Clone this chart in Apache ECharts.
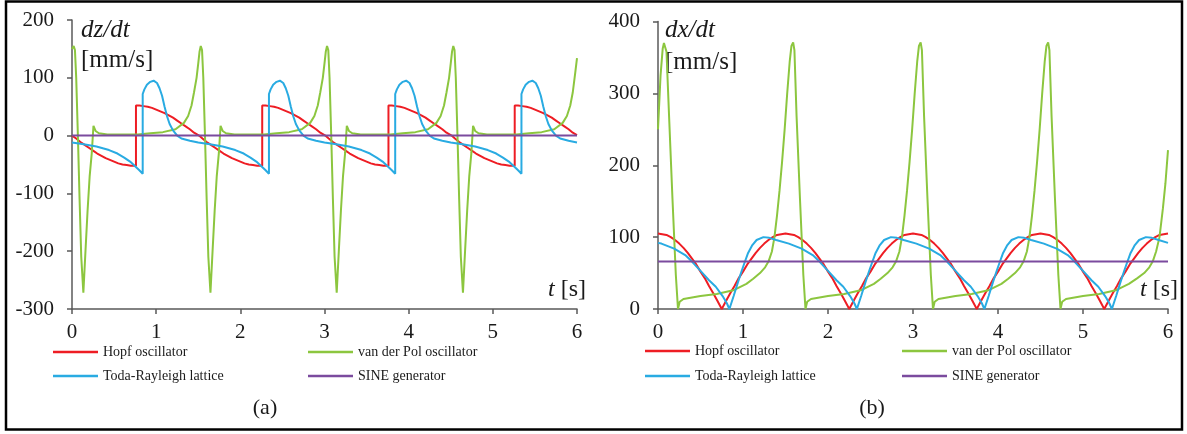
<!DOCTYPE html>
<html>
<head>
<meta charset="utf-8">
<script src="https://cdn.jsdelivr.net/npm/echarts@6/dist/echarts.min.js"></script>
<style>
  html, body { margin: 0; padding: 0; background: #ffffff; }
  #chart { width: 1187px; height: 434px; }
</style>
</head>
<body>
<div id="chart"></div>
<script>
// Oscillator names and line colours
const seriesNames = ['Hopf oscillator', 'van der Pol oscillator', 'Toda-Rayleigh lattice', 'SINE generator'];
const seriesColors = ['#EE1D24', '#8CC63F', '#29ABE2', '#7B4B9E'];

// Time axis ticks [s]
const timeTicks = { min: 0, max: 6, step: 1 };
// Velocity axis ranges [mm/s]
const dzRange = { min: -300, max: 200, step: 100 };
const dxRange = { min: 0, max: 400, step: 100 };

// ---- (a) dz/dt [mm/s] versus t [s] ----
const hopfDz = [[0,0],[0.05,-5],[0.1,-11],[0.15,-16],[0.2,-21],[0.25,-26],[0.3,-31],[0.35,-35],[0.4,-39],[0.45,-42],[0.5,-45],[0.55,-48],[0.6,-50],[0.65,-51],[0.7,-52],[0.76,-52],
  [0.76,52],[0.8,52],[0.85,51],[0.9,50],[0.95,48],[1,45],[1.05,42],[1.1,39],[1.15,35],[1.2,31],[1.25,26],[1.3,21],[1.35,16],[1.4,11],[1.45,5],[1.51,0],[1.55,-5],[1.6,-11],[1.65,-16],[1.7,-21],[1.75,-26],[1.8,-31],[1.85,-35],[1.9,-39],[1.95,-42],[2,-45],[2.05,-48],[2.1,-50],[2.15,-51],[2.2,-52],[2.26,-52],
  [2.26,52],[2.3,52],[2.35,51],[2.4,50],[2.45,48],[2.5,45],[2.55,42],[2.6,39],[2.65,35],[2.7,31],[2.75,26],[2.8,21],[2.85,16],[2.9,11],[2.95,5],[3.01,0],[3.05,-5],[3.1,-11],[3.15,-16],[3.2,-21],[3.25,-26],[3.3,-31],[3.35,-35],[3.4,-39],[3.45,-42],[3.5,-45],[3.55,-48],[3.6,-50],[3.65,-51],[3.7,-52],[3.76,-52],
  [3.76,52],[3.8,52],[3.85,51],[3.9,50],[3.95,48],[4,45],[4.05,42],[4.1,39],[4.15,35],[4.2,31],[4.25,26],[4.3,21],[4.35,16],[4.4,11],[4.45,5],[4.51,0],[4.55,-5],[4.6,-11],[4.65,-16],[4.7,-21],[4.75,-26],[4.8,-31],[4.85,-35],[4.9,-39],[4.95,-42],[5,-45],[5.05,-48],[5.1,-50],[5.15,-51],[5.2,-52],[5.26,-52],
  [5.26,52],[5.3,52],[5.35,51],[5.4,50],[5.45,48],[5.5,45],[5.55,42],[5.6,39],[5.65,35],[5.7,31],[5.75,26],[5.8,21],[5.85,16],[5.9,11],[5.95,5],[6,1]];

const vdpDz = [[0,150],[0.02,155],[0.035,148],[0.05,100],[0.07,0],[0.09,-110],[0.11,-210],[0.135,-272],[0.16,-200],[0.185,-130],[0.21,-70],[0.235,-30],[0.255,17],[0.28,8],[0.32,4],[0.42,2],[0.78,2],[0.93,4],[1.08,6],[1.23,11],[1.33,22],[1.38,34],[1.42,52],[1.45,75],[1.48,100],[1.5,125],[1.515,145],[1.53,155],
  [1.545,148],[1.56,100],[1.58,0],[1.6,-110],[1.62,-210],[1.645,-272],[1.67,-200],[1.695,-130],[1.72,-70],[1.745,-30],[1.765,17],[1.79,8],[1.83,4],[1.93,2],[2.28,2],[2.43,4],[2.58,6],[2.73,11],[2.83,22],[2.88,34],[2.92,52],[2.95,75],[2.98,100],[3,125],[3.015,145],[3.03,155],
  [3.045,148],[3.06,100],[3.08,0],[3.1,-110],[3.12,-210],[3.145,-272],[3.17,-200],[3.195,-130],[3.22,-70],[3.245,-30],[3.265,17],[3.29,8],[3.33,4],[3.43,2],[3.78,2],[3.93,4],[4.08,6],[4.23,11],[4.33,22],[4.38,34],[4.42,52],[4.45,75],[4.48,100],[4.5,125],[4.515,145],[4.53,155],
  [4.545,148],[4.56,100],[4.58,0],[4.6,-110],[4.62,-210],[4.645,-272],[4.67,-200],[4.695,-130],[4.72,-70],[4.745,-30],[4.765,17],[4.79,8],[4.83,4],[4.93,2],[5.28,2],[5.43,4],[5.58,6],[5.73,11],[5.83,22],[5.88,34],[5.92,52],[5.95,75],[5.98,110],[6,134]];

const todaDz = [[0,-12],[0.14,-15],[0.29,-19],[0.44,-25],[0.54,-31],[0.62,-38],[0.69,-45],[0.75,-53],[0.8,-60],[0.84,-66],
  [0.84,72],[0.86,80],[0.89,88],[0.93,93],[0.97,95],[1.01,91],[1.04,82],[1.07,69],[1.1,50],[1.13,33],[1.16,20],[1.2,9],[1.25,0],[1.3,-5],[1.4,-9],[1.5,-12],[1.64,-15],[1.79,-19],[1.94,-25],[2.04,-31],[2.12,-38],[2.19,-45],[2.25,-53],[2.3,-60],[2.34,-66],
  [2.34,72],[2.36,80],[2.39,88],[2.43,93],[2.47,95],[2.51,91],[2.54,82],[2.57,69],[2.6,50],[2.63,33],[2.66,20],[2.7,9],[2.75,0],[2.8,-5],[2.9,-9],[3,-12],[3.14,-15],[3.29,-19],[3.44,-25],[3.54,-31],[3.62,-38],[3.69,-45],[3.75,-53],[3.8,-60],[3.84,-66],
  [3.84,72],[3.86,80],[3.89,88],[3.93,93],[3.97,95],[4.01,91],[4.04,82],[4.07,69],[4.1,50],[4.13,33],[4.16,20],[4.2,9],[4.25,0],[4.3,-5],[4.4,-9],[4.5,-12],[4.64,-15],[4.79,-19],[4.94,-25],[5.04,-31],[5.12,-38],[5.19,-45],[5.25,-53],[5.3,-60],[5.34,-66],
  [5.34,72],[5.36,80],[5.39,88],[5.43,93],[5.47,95],[5.51,91],[5.54,82],[5.57,69],[5.6,50],[5.63,33],[5.66,20],[5.7,9],[5.75,0],[5.8,-5],[5.9,-9],[6,-12]];

const sineDz = [[0,0],[6,0]];

// ---- (b) dx/dt [mm/s] versus t [s] ----
const hopfDx = [[0,105],[0.05,104],[0.1,103],[0.15,100],[0.2,96],[0.25,91],[0.3,85],[0.35,78],[0.4,70],[0.45,62],[0.5,52],[0.55,43],[0.6,32],[0.65,22],[0.7,11],[0.75,0],[0.8,11],[0.85,22],[0.9,32],[0.95,43],[1,52],[1.05,62],[1.1,70],[1.15,78],[1.2,85],[1.25,91],[1.3,96],[1.35,100],[1.4,103],[1.45,104],[1.5,105],
  [1.55,104],[1.6,103],[1.65,100],[1.7,96],[1.75,91],[1.8,85],[1.85,78],[1.9,70],[1.95,62],[2,52],[2.05,43],[2.1,32],[2.15,22],[2.2,11],[2.25,0],[2.3,11],[2.35,22],[2.4,32],[2.45,43],[2.5,52],[2.55,62],[2.6,70],[2.65,78],[2.7,85],[2.75,91],[2.8,96],[2.85,100],[2.9,103],[2.95,104],[3,105],
  [3.05,104],[3.1,103],[3.15,100],[3.2,96],[3.25,91],[3.3,85],[3.35,78],[3.4,70],[3.45,62],[3.5,52],[3.55,43],[3.6,32],[3.65,22],[3.7,11],[3.75,0],[3.8,11],[3.85,22],[3.9,32],[3.95,43],[4,52],[4.05,62],[4.1,70],[4.15,78],[4.2,85],[4.25,91],[4.3,96],[4.35,100],[4.4,103],[4.45,104],[4.5,105],
  [4.55,104],[4.6,103],[4.65,100],[4.7,96],[4.75,91],[4.8,85],[4.85,78],[4.9,70],[4.95,62],[5,52],[5.05,43],[5.1,32],[5.15,22],[5.2,11],[5.25,0],[5.3,11],[5.35,22],[5.4,32],[5.45,43],[5.5,52],[5.55,62],[5.6,70],[5.65,78],[5.7,85],[5.75,91],[5.8,96],[5.85,100],[5.9,103],[5.95,104],[6,105]];

const vdpDx = [[0,250],[0.03,325],[0.055,362],[0.07,370],[0.085,370],[0.1,358],[0.13,269],[0.17,154],[0.21,47],[0.235,0],[0.255,10],[0.3,14],[0.5,18],[0.69,21],[0.885,26],[1.04,35],[1.12,42],[1.2,50],[1.26,58],[1.3,66],[1.34,80],[1.37,100],[1.4,130],[1.43,165],[1.46,205],[1.49,250],[1.52,300],[1.55,345],[1.57,366],[1.59,371],
  [1.605,360],[1.63,269],[1.67,154],[1.71,47],[1.735,0],[1.755,10],[1.8,14],[2,18],[2.19,21],[2.385,26],[2.54,35],[2.62,42],[2.7,50],[2.76,58],[2.8,66],[2.84,80],[2.87,100],[2.9,130],[2.93,165],[2.96,205],[2.99,250],[3.02,300],[3.05,345],[3.07,366],[3.09,371],
  [3.105,360],[3.13,269],[3.17,154],[3.21,47],[3.235,0],[3.255,10],[3.3,14],[3.5,18],[3.69,21],[3.885,26],[4.04,35],[4.12,42],[4.2,50],[4.26,58],[4.3,66],[4.34,80],[4.37,100],[4.4,130],[4.43,165],[4.46,205],[4.49,250],[4.52,300],[4.55,345],[4.57,366],[4.59,371],
  [4.605,360],[4.63,269],[4.67,154],[4.71,47],[4.735,0],[4.755,10],[4.8,14],[5,18],[5.19,21],[5.385,26],[5.54,35],[5.64,43],[5.72,50],[5.78,58],[5.82,66],[5.86,80],[5.9,100],[5.94,140],[5.97,175],[6,221]];

const todaDx = [[0,92],[0.04,91],[0.19,84],[0.32,75],[0.4,66],[0.5,53],[0.6,40],[0.68,31],[0.76,18],[0.81,8],[0.84,0],
  [0.89,18],[0.94,37],[0.99,55],[1.02,65],[1.06,78],[1.11,89],[1.16,96],[1.24,100],[1.31,99],[1.39,96],[1.54,91],[1.69,84],[1.82,75],[1.9,66],[2,53],[2.1,40],[2.18,31],[2.26,18],[2.31,8],[2.34,0],
  [2.39,18],[2.44,37],[2.49,55],[2.52,65],[2.56,78],[2.61,89],[2.66,96],[2.74,100],[2.81,99],[2.89,96],[3.04,91],[3.19,84],[3.32,75],[3.4,66],[3.5,53],[3.6,40],[3.68,31],[3.76,18],[3.81,8],[3.84,0],
  [3.89,18],[3.94,37],[3.99,55],[4.02,65],[4.06,78],[4.11,89],[4.16,96],[4.24,100],[4.31,99],[4.39,96],[4.54,91],[4.69,84],[4.82,75],[4.9,66],[5,53],[5.1,40],[5.18,31],[5.26,18],[5.31,8],[5.34,0],
  [5.39,18],[5.44,37],[5.49,55],[5.52,65],[5.56,78],[5.61,89],[5.66,96],[5.74,100],[5.81,99],[5.89,96],[6,92]];

const sineDx = [[0,66],[6,66]];

const SERIF = '"Liberation Serif", "Times New Roman", serif';
const AXIS_COLOR = '#5a5a5a';
const TEXT_COLOR = '#1a1a1a';

function timeAxis(gridIndex) {
  return {
    type: 'value', gridIndex,
    min: timeTicks.min, max: timeTicks.max, interval: timeTicks.step,
    axisLine: { onZero: false, lineStyle: { color: AXIS_COLOR, width: 1.5 } },
    axisTick: { length: 5, lineStyle: { color: AXIS_COLOR, width: 1.5 } },
    axisLabel: { fontFamily: SERIF, fontSize: 21, color: TEXT_COLOR, margin: 13 },
    splitLine: { show: false }
  };
}
function speedAxis(gridIndex, range) {
  return {
    type: 'value', gridIndex,
    min: range.min, max: range.max, interval: range.step,
    axisLine: { show: true, onZero: false, lineStyle: { color: AXIS_COLOR, width: 1.5 } },
    axisTick: { show: true, length: 5, lineStyle: { color: AXIS_COLOR, width: 1.5 } },
    axisLabel: { fontFamily: SERIF, fontSize: 21, color: TEXT_COLOR, margin: 18 },
    splitLine: { show: false }
  };
}
function lineSeries(idx, data, gridIndex) {
  return {
    type: 'line', name: seriesNames[idx], data,
    xAxisIndex: gridIndex, yAxisIndex: gridIndex,
    showSymbol: false, symbol: 'none', smooth: false,
    lineStyle: { color: seriesColors[idx], width: 2 },
    itemStyle: { color: seriesColors[idx] },
    z: 2 + idx
  };
}
function legendEntry(idx, left, top) {
  return {
    data: [seriesNames[idx]], left, top, orient: 'horizontal',
    icon: 'rect', itemWidth: 45, itemHeight: 2.5, selectedMode: false,
    textStyle: { fontFamily: SERIF, fontSize: 14, color: TEXT_COLOR, padding: [0, 0, 0, 0] },
    padding: 0
  };
}
function label(x, y, text, opts) {
  return {
    type: 'text', x, y, silent: true,
    style: Object.assign({
      text, fontFamily: SERIF, fontSize: 25, fill: TEXT_COLOR,
      textAlign: 'left', textVerticalAlign: 'middle'
    }, opts || {})
  };
}
const unitRich = { i: { fontStyle: 'italic', fontFamily: SERIF, fontSize: 24, fill: TEXT_COLOR } };

const chart = echarts.init(document.getElementById('chart'), null, { renderer: 'canvas' });
chart.setOption({
  animation: false,
  backgroundColor: '#ffffff',
  grid: [
    { left: 72, top: 20, width: 505, height: 289 },
    { left: 658, top: 21.5, width: 510, height: 287.5 }
  ],
  xAxis: [timeAxis(0), timeAxis(1)],
  yAxis: [speedAxis(0, dzRange), speedAxis(1, dxRange)],
  legend: [
    legendEntry(0, 53, 345), legendEntry(1, 308, 345),
    legendEntry(2, 53, 369), legendEntry(3, 308, 369),
    legendEntry(0, 645, 344), legendEntry(1, 902, 344),
    legendEntry(2, 645, 369), legendEntry(3, 902, 369)
  ],
  series: [
    lineSeries(0, hopfDz, 0), lineSeries(1, vdpDz, 0), lineSeries(2, todaDz, 0), lineSeries(3, sineDz, 0),
    lineSeries(0, hopfDx, 1), lineSeries(1, vdpDx, 1), lineSeries(2, todaDx, 1), lineSeries(3, sineDx, 1)
  ],
  graphic: [
    { type: 'rect', silent: true, shape: { x: 6, y: 1.5, width: 1176, height: 428 },
      style: { fill: 'none', stroke: '#000000', lineWidth: 2.5 } },
    label(81, 30, 'dz/dt', { fontStyle: 'italic' }),
    label(81, 60, '[mm/s]'),
    label(586, 290, '{i|t} [s]', { textAlign: 'right', fontSize: 24, rich: unitRich }),
    label(265, 408, '(a)', { textAlign: 'center', fontSize: 22 }),
    label(665, 30, 'dx/dt', { fontStyle: 'italic' }),
    label(665, 62, '[mm/s]'),
    label(1178, 290, '{i|t} [s]', { textAlign: 'right', fontSize: 24, rich: unitRich }),
    label(872, 408, '(b)', { textAlign: 'center', fontSize: 22 })
  ]
});
</script>
</body>
</html>
